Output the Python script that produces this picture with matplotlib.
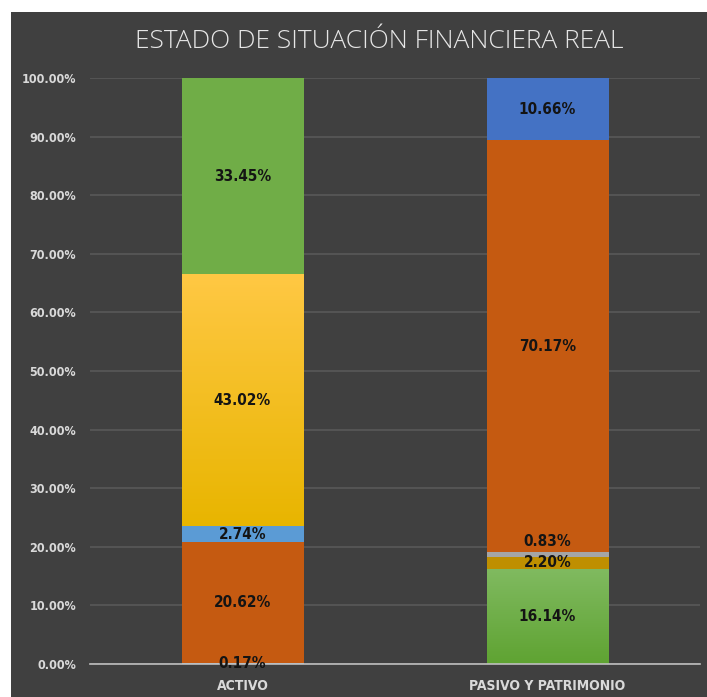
import matplotlib.pyplot as plt
import numpy as np
from matplotlib.patches import Rectangle
from matplotlib.colors import LinearSegmentedColormap

categories = ['ACTIVO', 'PASIVO Y PATRIMONIO']

# stacked segments, bottom to top (percent)
activo = [0.17, 20.62, 2.74, 43.02, 33.45]
activo_colors = ['#9DC3E6', '#C55A11', '#5B9BD5', ('#FFC844', '#E8B500'), '#70AD47']

pasivo = [16.14, 2.20, 0.83, 70.17, 10.66]
pasivo_colors = [('#80BA60', '#5FA332'), '#BF8F00', '#A5A5A5', '#C55A11', '#4472C4']

label_nudge = {(1, 2): 9}  # points, keeps the 0.83% label off the 2.20% one

yticks = np.arange(0, 101, 10)
font = dict(family='DejaVu Sans', fontweight='bold', fontstretch='condensed')

fig = plt.figure(figsize=(7.07, 6.97), dpi=100)
fig.patch.set_facecolor('white')
fig.patches.append(Rectangle((11 / 707, 0), 1, 1 - 12 / 697, transform=fig.transFigure,
                             facecolor='#404040', edgecolor='none', zorder=-10))

ax = fig.add_axes([90 / 707, 33 / 697, 610 / 707, 586 / 697])
ax.set_facecolor('#404040')
ax.patch.set_alpha(0)

width = 0.4
for xi, (vals, cols) in enumerate([(activo, activo_colors), (pasivo, pasivo_colors)]):
    bottom = 0
    for si, (v, c) in enumerate(zip(vals, cols)):
        if isinstance(c, tuple):
            bar = ax.bar(xi, v, width, bottom=bottom, color=c[1], zorder=3)[0]
            cmap = LinearSegmentedColormap.from_list('g', [c[1], c[0]])
            grad = np.linspace(0, 1, 256).reshape(-1, 1)
            im = ax.imshow(grad, cmap=cmap, aspect='auto', origin='lower',
                           extent=[xi - width / 2, xi + width / 2, bottom, bottom + v], zorder=3.5)
            im.set_clip_path(bar)
        else:
            ax.bar(xi, v, width, bottom=bottom, color=c, zorder=3)
        dy = label_nudge.get((xi, si), 0)
        ax.annotate(f'{v:.2f}%', (xi, bottom + v / 2), xytext=(0, dy), textcoords='offset points',
                    ha='center', va='center', fontsize=11, color='#141414', zorder=5, **font)
        bottom += v

ax.set_xlim(-0.5, 1.5)
ax.set_ylim(0, 100)
ax.set_yticks(yticks)
ax.set_yticklabels([f'{t:.2f}%' for t in yticks], fontsize=9, **font)
ax.set_xticks([0, 1])
ax.set_xticklabels(categories, fontsize=10, **font)
ax.yaxis.grid(True, color='#595959', linewidth=1.2, zorder=0)
ax.set_axisbelow(True)
for s in ['top', 'right', 'left']:
    ax.spines[s].set_visible(False)
ax.spines['bottom'].set_color('#BFBFBF')
ax.spines['bottom'].set_linewidth(1.2)
ax.spines['bottom'].set_zorder(4)
ax.tick_params(axis='both', length=0, colors='#D9D9D9')
ax.tick_params(axis='y', pad=10)
ax.tick_params(axis='x', pad=11)

fig.text(0.537, 1 - 42 / 697, 'ESTADO DE SITUACIÓN FINANCIERA REAL', ha='center', va='center',
         fontsize=19, color='#E6E6E6', family=['Open Sans', 'DejaVu Sans'], fontweight='light')

fig.savefig('out.png', dpi=100, facecolor=fig.get_facecolor())
